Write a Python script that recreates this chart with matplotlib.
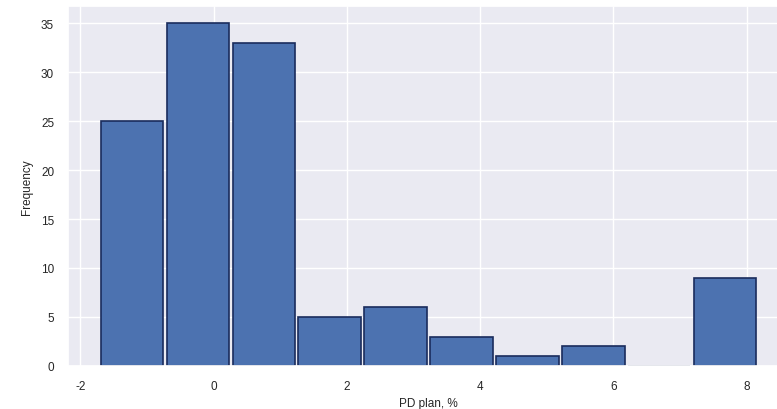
import numpy as np
import matplotlib
matplotlib.use('Agg')
import matplotlib.pyplot as plt
import seaborn as sns

# histogram counts
counts = [25, 35, 33, 5, 6, 3, 1, 2, 0, 9]
x_min, x_max = -1.72, 8.17

edges = np.linspace(x_min, x_max, len(counts) + 1)
centers = (edges[:-1] + edges[1:]) / 2

sns.set_theme(style='darkgrid')
plt.rcParams['font.family'] = ['Liberation Sans', 'DejaVu Sans']
plt.rcParams['axes.unicode_minus'] = False

fig = plt.figure(figsize=(7.77, 4.10), dpi=100)
ax = fig.add_axes([0.0875, 0.105, 0.928, 0.878])

ax.hist(centers, bins=edges, weights=counts, rwidth=0.95,
        color='#4c72b0', edgecolor='#1a2c5c', linewidth=1.2)

ax.set_yticks(range(0, 36, 5))
ax.set_xticks(range(-2, 9, 2))
ax.tick_params(labelsize=8.5, pad=4)
ax.set_xlabel('PD plan, %', fontsize=8.5, labelpad=4)
ax.set_ylabel('Frequency', fontsize=8.5, labelpad=6)

fig.savefig('out.png', dpi=100)
